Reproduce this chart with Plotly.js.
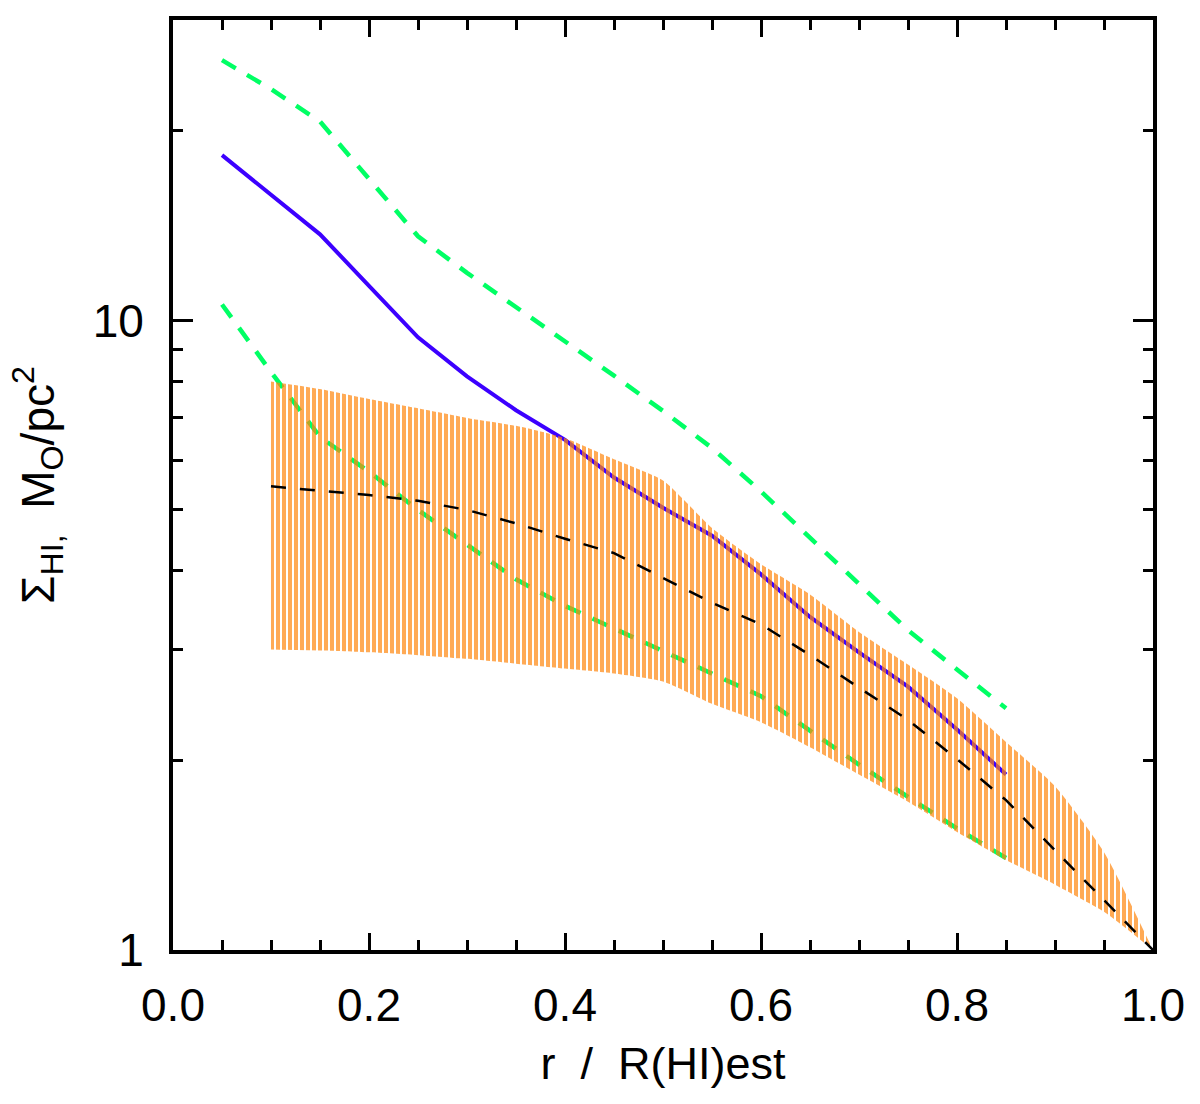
<!DOCTYPE html>
<html>
<head>
<meta charset="utf-8">
<script src="https://cdn.plot.ly/plotly-3.0.1.min.js"></script>
<style>
	body { margin: 0; background: #fff; }
	#chart { width: 1200px; height: 1104px; }
</style>
</head>
<body>
<div id="chart"></div>
<script>

	// model profiles (r / R(HI)est)
	const rModel = [0.05, 0.10, 0.15, 0.20, 0.25, 0.30, 0.35, 0.40, 0.45, 0.50, 0.55, 0.60, 0.65, 0.70, 0.75, 0.80, 0.85];
	const sigmaModel = [18.3, 15.8, 13.7, 11.35, 9.4, 8.15, 7.2, 6.46, 5.63, 5.04, 4.55, 3.95, 3.38, 2.97, 2.62, 2.24, 1.9];
	const sigmaHigh = [25.9, 23.3, 20.7, 16.8, 13.6, 11.9, 10.5, 9.27, 8.17, 7.18, 6.27, 5.35, 4.51, 3.81, 3.22, 2.79, 2.42];
	const sigmaLow = [10.6, 8.28, 6.53, 5.75, 5.0, 4.4, 3.88, 3.52, 3.24, 2.99, 2.74, 2.53, 2.23, 1.97, 1.75, 1.56, 1.40];

	// observed band + median
	const rBand = [0.10, 0.15, 0.20, 0.25, 0.30, 0.35, 0.40, 0.45, 0.50, 0.55, 0.60, 0.65, 0.70, 0.75, 0.80, 0.85, 0.90, 0.95, 1.00];
	const bandUpper = [8.0, 7.78, 7.5, 7.25, 7.0, 6.8, 6.5, 6.02, 5.57, 4.68, 4.1, 3.67, 3.2, 2.84, 2.51, 2.14, 1.82, 1.43, 1.0];
	const bandLower = [3.0, 2.99, 2.97, 2.94, 2.9, 2.85, 2.8, 2.75, 2.67, 2.46, 2.3, 2.1, 1.9, 1.72, 1.54, 1.39, 1.27, 1.15, 1.0];
	const bandMedian = [5.45, 5.37, 5.28, 5.17, 5.0, 4.76, 4.5, 4.27, 3.9, 3.56, 3.29, 2.94, 2.61, 2.32, 2.01, 1.73, 1.44, 1.2, 1.0];

	// ticks
	const xTicks = [0.0, 0.2, 0.4, 0.6, 0.8, 1.0];
	const xTickText = ['0.0', '0.2', '0.4', '0.6', '0.8', '1.0'];
	const yTicks = [1, 10];
	const yTickText = ['1', '10'];
	const yMinorTicks = [2, 3, 4, 5, 6, 7, 8, 9, 20, 30];

	const font = 'Liberation Sans, Arial, sans-serif';

	/**
	* line traces
	*/
	const dataTraces = () => {

		const high = {
			x: rModel,
			y: sigmaHigh,
			mode: 'lines',
			line: { color: '#00FF64', width: 4.5, dash: '16px,13px' },
			showlegend: false
		};

		const low = {
			x: rModel,
			y: sigmaLow,
			mode: 'lines',
			line: { color: '#00FF64', width: 4.5, dash: '16px,13px' },
			showlegend: false
		};

		const model = {
			x: rModel,
			y: sigmaModel,
			mode: 'lines',
			line: { color: '#3C00FF', width: 4 },
			showlegend: false
		};

		// band: lower edge then fill up to the upper edge, hatched
		const bandLo = {
			x: rBand,
			y: bandLower,
			mode: 'lines',
			line: { width: 0, shape: 'spline', smoothing: 0.6 },
			showlegend: false
		};

		const bandHi = {
			x: rBand,
			y: bandUpper,
			mode: 'lines',
			line: { width: 0, shape: 'spline', smoothing: 0.6 },
			fill: 'tonexty',
			fillcolor: 'rgba(0,0,0,0)',
			fillpattern: {
				shape: '|',
				size: 6,
				solidity: 0.67,
				fgcolor: '#FF860C',
				fgopacity: 0.7,
				bgcolor: 'rgba(0,0,0,0)'
			},
			showlegend: false
		};

		const median = {
			x: rBand,
			y: bandMedian,
			mode: 'lines',
			line: { color: '#000000', width: 2.5, dash: '15px,14px' },
			showlegend: false
		};

		return [ high, low, model, bandLo, bandHi, median ];
	};

	const axisBase = {
		showline: true,
		linecolor: '#000',
		linewidth: 4,
		mirror: 'ticks',
		ticks: 'inside',
		tickcolor: '#000',
		tickwidth: 3,
		showgrid: false,
		zeroline: false,
		tickfont: { family: font, size: 46, color: '#000' }
	};

	const layout = {
		width: 1200,
		height: 1104,
		margin: { l: 173, r: 47, t: 20, b: 154 },
		paper_bgcolor: '#fff',
		plot_bgcolor: '#fff',
		showlegend: false,
		xaxis: Object.assign({}, axisBase, {
			range: [0, 1],
			tickmode: 'array',
			tickvals: xTicks,
			ticktext: xTickText,
			ticklen: 17,
			ticklabelstandoff: 12,
			minor: { dtick: 0.05, ticklen: 10, tickwidth: 3, tickcolor: '#000', ticks: 'inside' },
			title: { text: 'r  /  R(HI)est', font: { family: font, size: 45, color: '#000' }, standoff: 18 }
		}),
		yaxis: Object.assign({}, axisBase, {
			type: 'log',
			range: [0, Math.log10(30)],
			tickmode: 'array',
			tickvals: yTicks,
			ticktext: yTickText,
			ticklen: 20,
			ticklabelstandoff: 16,
			minor: { tickmode: 'array', tickvals: yMinorTicks, ticklen: 10, tickwidth: 3, tickcolor: '#000', ticks: 'inside' },
			title: {
				text: 'Σ<sub>HI,</sub>\u00A0\u00A0M<sub>O</sub>/pc<sup>2</sup>',
				font: { family: font, size: 46, color: '#000' },
				standoff: 25
			}
		})
	};

	Plotly.newPlot(
		document.getElementById('chart'),
		dataTraces(),
		layout,
		{ displayModeBar: false, staticPlot: true }
	);

</script>
</body>
</html>
